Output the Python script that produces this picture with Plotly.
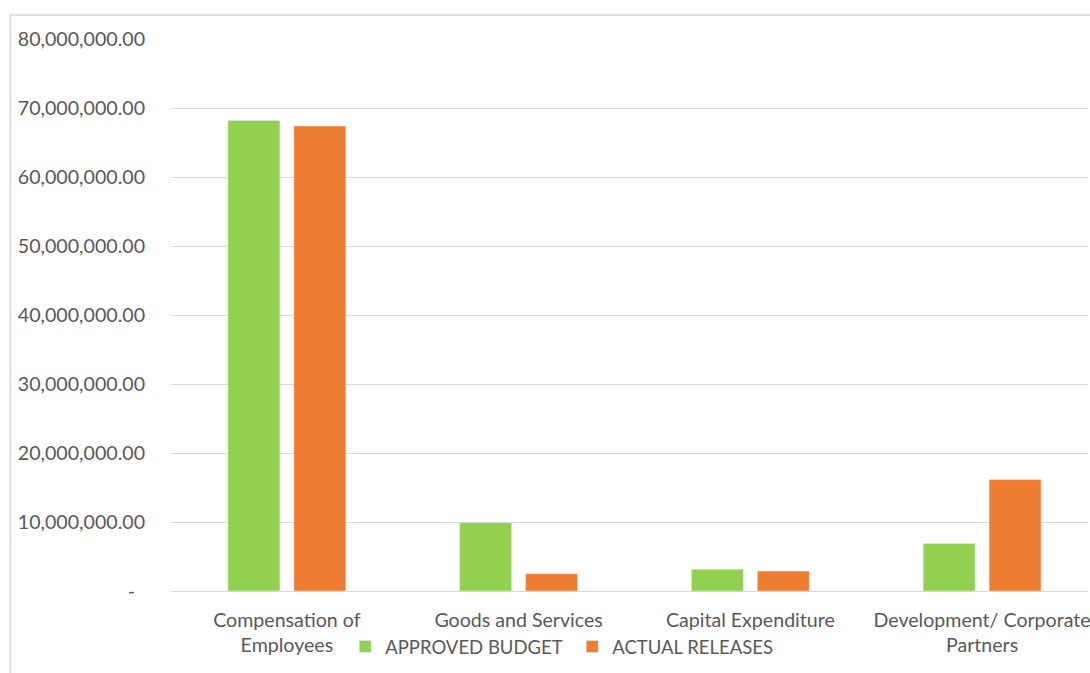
import plotly.graph_objects as go

categories = ["Compensation of<br>Employees", "Goods and Services", "Capital Expenditure", "Development/ Corporate<br>Partners"]
approved_budget = [68200000, 9900000, 3150000, 6900000]
actual_releases = [67400000, 2500000, 2900000, 16150000]
tick_vals = [0, 10000000, 20000000, 30000000, 40000000, 50000000, 60000000, 70000000, 80000000]
tick_text = ["-\u00a0\u00a0", "10,000,000.00", "20,000,000.00", "30,000,000.00", "40,000,000.00",
             "50,000,000.00", "60,000,000.00", "70,000,000.00", "80,000,000.00"]

FONT = "Lato"
TXT = "#595959"
FS = 19.6

fig = go.Figure()
fig.add_trace(go.Bar(name="APPROVED BUDGET", x=categories, y=approved_budget, marker_color="#92d050"))
fig.add_trace(go.Bar(name="ACTUAL RELEASES", x=categories, y=actual_releases, marker_color="#ed7d31"))

fig.update_layout(
    width=1090, height=673,
    margin=dict(l=171, r=0, t=39, b=82),
    paper_bgcolor="white", plot_bgcolor="white",
    barmode="group", bargap=0.431, bargroupgap=0.212,
    font=dict(family=FONT, size=FS, color=TXT),
    showlegend=True,
    legend=dict(orientation="h", x=0.19, xanchor="left", y=-0.1014, yanchor="middle",
                font=dict(family=FONT, size=18.5, color=TXT), entrywidth=182, entrywidthmode="pixels",
                traceorder="normal", bgcolor="rgba(0,0,0,0)"),
    xaxis=dict(range=[-0.5, 3.457], showgrid=False, showline=True, linecolor="#d9d9d9", linewidth=1,
               ticks="", ticklabelstandoff=11, tickfont=dict(family=FONT, size=FS, color=TXT), fixedrange=True),
    yaxis=dict(range=[0, 80000000], tickvals=tick_vals, ticktext=tick_text, showgrid=True,
               gridcolor="#d9d9d9", gridwidth=1, zeroline=False, showline=False, ticks="",
               ticklabelstandoff=25, tickfont=dict(family=FONT, size=FS, color=TXT), fixedrange=True),
    shapes=[dict(type="rect", xref="paper", yref="paper", x0=-0.1752, x1=1.2, y0=-0.4, y1=1.0435,
                 line=dict(color="#d9d9d9", width=1.5), fillcolor="rgba(0,0,0,0)", layer="below")],
)

fig.write_html("out.html", config={"displayModeBar": False},
               post_script="document.body.style.margin='0';document.body.style.padding='0';document.body.style.overflow='hidden';")
